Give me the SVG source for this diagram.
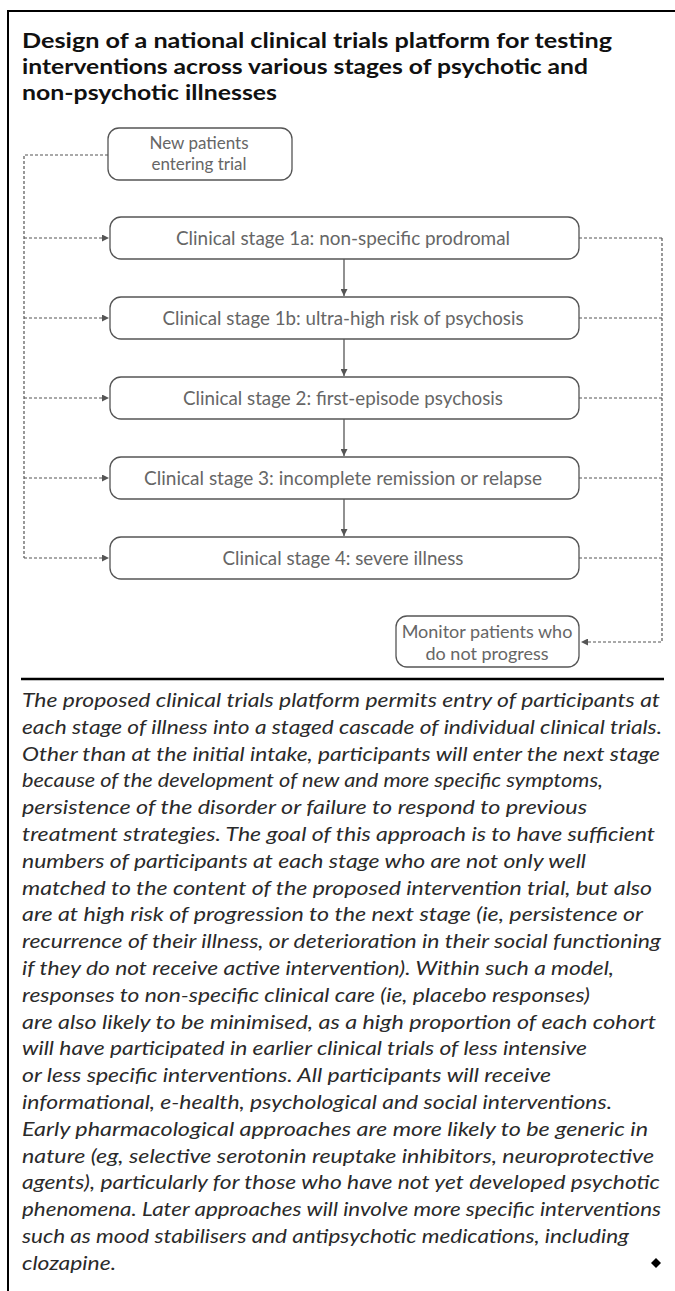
<svg xmlns="http://www.w3.org/2000/svg" width="675" height="1291" viewBox="0 0 675 1291">
<defs>
<style>
.frame{stroke:#000;stroke-width:2;fill:none}
.node{fill:#fff;stroke:#555;stroke-width:1.3}
.lbl{font-family:Lato,"Open Sans","Liberation Sans",sans-serif;font-size:19px;fill:#666;text-anchor:middle}
.sm{font-size:17px}
.mon{font-size:18px}
.title{font-family:Lato,"Liberation Sans",sans-serif;font-weight:700;font-size:21px;fill:#111}
.para{font-family:Lato,"Liberation Sans",sans-serif;font-style:italic;font-size:19.5px;fill:#2a2a2a}
.dash{stroke:#555;stroke-width:1.2;stroke-dasharray:3 2;fill:none}
.solid{stroke:#555;stroke-width:1.3;fill:none}
</style>
<marker id="ah" viewBox="0 0 10 10" refX="10" refY="5" markerWidth="9" markerHeight="7" markerUnits="userSpaceOnUse" orient="auto">
<path d="M0,0 L10,5 L0,10 z" fill="#555"/>
</marker>
</defs>
<rect width="675" height="1291" fill="#fff"/>
<g id="frame">
<line class="frame" x1="8" y1="11" x2="675" y2="11"/>
<line class="frame" x1="8" y1="10" x2="8" y2="1291"/>
<line x1="21" y1="679" x2="664" y2="679" stroke="#000" stroke-width="2.5"/>
</g>
<g id="title">
<text class="title" x="22" y="48" textLength="590" lengthAdjust="spacingAndGlyphs">Design of a national clinical trials platform for testing</text>
<text class="title" x="22" y="74" textLength="566" lengthAdjust="spacingAndGlyphs">interventions across various stages of psychotic and</text>
<text class="title" x="22" y="100" textLength="255" lengthAdjust="spacingAndGlyphs">non-psychotic illnesses</text>
</g>
<g id="connectors">
<polyline class="dash" points="108,155 24,155 24,558"/>
<line class="dash" x1="24" y1="238" x2="109" y2="238" marker-end="url(#ah)"/>
<line class="dash" x1="24" y1="318" x2="109" y2="318" marker-end="url(#ah)"/>
<line class="dash" x1="24" y1="398" x2="109" y2="398" marker-end="url(#ah)"/>
<line class="dash" x1="24" y1="478" x2="109" y2="478" marker-end="url(#ah)"/>
<line class="dash" x1="24" y1="558" x2="109" y2="558" marker-end="url(#ah)"/>
<line class="solid" x1="344" y1="259" x2="344" y2="296" marker-end="url(#ah)"/>
<line class="solid" x1="344" y1="339" x2="344" y2="376" marker-end="url(#ah)"/>
<line class="solid" x1="344" y1="419" x2="344" y2="456" marker-end="url(#ah)"/>
<line class="solid" x1="344" y1="499" x2="344" y2="536" marker-end="url(#ah)"/>
<line class="dash" x1="579" y1="238" x2="662" y2="238"/>
<line class="dash" x1="579" y1="318" x2="662" y2="318"/>
<line class="dash" x1="579" y1="398" x2="662" y2="398"/>
<line class="dash" x1="579" y1="478" x2="662" y2="478"/>
<line class="dash" x1="579" y1="558" x2="662" y2="558"/>
<polyline class="dash" points="662,238 662,642 581,642" marker-end="url(#ah)"/>
</g>
<g id="new-patients">
<rect class="node" x="108" y="128" width="184" height="52" rx="11"/>
<text class="lbl sm" x="199" y="149">New patients</text>
<text class="lbl sm" x="199" y="170">entering trial</text>
</g>
<g id="stage-1a">
<rect class="node" x="110" y="217" width="469" height="42" rx="11"/>
<text class="lbl" x="343" y="244.5" textLength="334" lengthAdjust="spacingAndGlyphs">Clinical stage 1a: non-specific prodromal</text>
</g>
<g id="stage-1b">
<rect class="node" x="110" y="297" width="469" height="42" rx="11"/>
<text class="lbl" x="343" y="324.5" textLength="361" lengthAdjust="spacingAndGlyphs">Clinical stage 1b: ultra-high risk of psychosis</text>
</g>
<g id="stage-2">
<rect class="node" x="110" y="377" width="469" height="42" rx="11"/>
<text class="lbl" x="343" y="404.5" textLength="320" lengthAdjust="spacingAndGlyphs">Clinical stage 2: first-episode psychosis</text>
</g>
<g id="stage-3">
<rect class="node" x="110" y="457" width="469" height="42" rx="11"/>
<text class="lbl" x="343" y="484.5" textLength="398" lengthAdjust="spacingAndGlyphs">Clinical stage 3: incomplete remission or relapse</text>
</g>
<g id="stage-4">
<rect class="node" x="110" y="537" width="469" height="42" rx="11"/>
<text class="lbl" x="343" y="564.5" textLength="241" lengthAdjust="spacingAndGlyphs">Clinical stage 4: severe illness</text>
</g>
<g id="monitor">
<rect class="node" x="396" y="616" width="183" height="51" rx="11"/>
<text class="lbl mon" x="487" y="638">Monitor patients who</text>
<text class="lbl mon" x="487" y="660">do not progress</text>
</g>
<g id="caption">
<text class="para" x="22" y="707" textLength="638" lengthAdjust="spacingAndGlyphs">The proposed clinical trials platform permits entry of participants at</text>
<text class="para" x="22" y="733.8" textLength="640" lengthAdjust="spacingAndGlyphs">each stage of illness into a staged cascade of individual clinical trials.</text>
<text class="para" x="22" y="760.6" textLength="638" lengthAdjust="spacingAndGlyphs">Other than at the initial intake, participants will enter the next stage</text>
<text class="para" x="22" y="787.4" textLength="581" lengthAdjust="spacingAndGlyphs">because of the development of new and more specific symptoms,</text>
<text class="para" x="22" y="814.2" textLength="565" lengthAdjust="spacingAndGlyphs">persistence of the disorder or failure to respond to previous</text>
<text class="para" x="22" y="841" textLength="633" lengthAdjust="spacingAndGlyphs">treatment strategies. The goal of this approach is to have sufficient</text>
<text class="para" x="22" y="867.8" textLength="564" lengthAdjust="spacingAndGlyphs">numbers of participants at each stage who are not only well</text>
<text class="para" x="22" y="894.6" textLength="630" lengthAdjust="spacingAndGlyphs">matched to the content of the proposed intervention trial, but also</text>
<text class="para" x="22" y="921.4" textLength="621" lengthAdjust="spacingAndGlyphs">are at high risk of progression to the next stage (ie, persistence or</text>
<text class="para" x="22" y="948.2" textLength="639" lengthAdjust="spacingAndGlyphs">recurrence of their illness, or deterioration in their social functioning</text>
<text class="para" x="22" y="975" textLength="592" lengthAdjust="spacingAndGlyphs">if they do not receive active intervention). Within such a model,</text>
<text class="para" x="22" y="1001.8" textLength="568" lengthAdjust="spacingAndGlyphs">responses to non-specific clinical care (ie, placebo responses)</text>
<text class="para" x="22" y="1028.6" textLength="634" lengthAdjust="spacingAndGlyphs">are also likely to be minimised, as a high proportion of each cohort</text>
<text class="para" x="22" y="1055.4" textLength="565" lengthAdjust="spacingAndGlyphs">will have participated in earlier clinical trials of less intensive</text>
<text class="para" x="22" y="1082.2" textLength="529" lengthAdjust="spacingAndGlyphs">or less specific interventions. All participants will receive</text>
<text class="para" x="22" y="1109" textLength="590" lengthAdjust="spacingAndGlyphs">informational, e-health, psychological and social interventions.</text>
<text class="para" x="22" y="1135.8" textLength="626" lengthAdjust="spacingAndGlyphs">Early pharmacological approaches are more likely to be generic in</text>
<text class="para" x="22" y="1162.6" textLength="632" lengthAdjust="spacingAndGlyphs">nature (eg, selective serotonin reuptake inhibitors, neuroprotective</text>
<text class="para" x="22" y="1189.4" textLength="638" lengthAdjust="spacingAndGlyphs">agents), particularly for those who have not yet developed psychotic</text>
<text class="para" x="22" y="1216.2" textLength="639" lengthAdjust="spacingAndGlyphs">phenomena. Later approaches will involve more specific interventions</text>
<text class="para" x="22" y="1243" textLength="607" lengthAdjust="spacingAndGlyphs">such as mood stabilisers and antipsychotic medications, including</text>
<text class="para" x="22" y="1269.8" textLength="94" lengthAdjust="spacingAndGlyphs">clozapine.</text>
<path d="M656,1258 L661,1263 L656,1268 L651,1263 z" fill="#000"/>
</g>
</svg>
